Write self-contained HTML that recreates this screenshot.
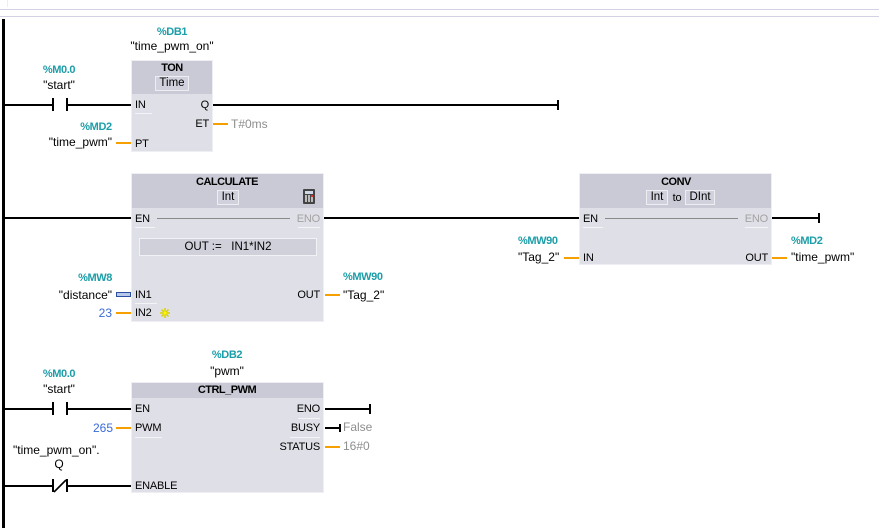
<!DOCTYPE html>
<html><head><meta charset="utf-8">
<style>
html,body{margin:0;padding:0;}
body{width:879px;height:528px;background:#fff;position:relative;overflow:hidden;font-family:"Liberation Sans",sans-serif;color:#000;}
div{position:absolute;box-sizing:border-box;}
.t{line-height:14px;white-space:nowrap;font-size:12px;}
.c{width:120px;text-align:center;}
.a{font-size:11px;font-weight:bold;color:#1c9ea8;letter-spacing:-0.4px;}
.p{font-size:11px;letter-spacing:-0.2px;}
.h{font-size:11px;font-weight:bold;letter-spacing:-0.5px;}
.g{color:#8e8e8e;}
.b{color:#3a6bd6;}
.w{background:#000;height:2px;}
.o{background:#f5a000;height:2px;}
.pl{background:#000;width:2px;height:13px;}
.box{background:#dfdfe7;border:1px solid #eeeef3;}
.hd{background:#c9cad5;left:0;top:0;right:0;}
.ib{background:#d0d1dc;border:1px solid #eeeef2;height:15px;line-height:13px;font-size:11.5px;text-align:center;}
.ul{background:#f4f4f8;height:1px;}
</style></head><body>

<!-- top lines -->
<div style="left:0;top:9px;width:879px;height:1px;background:#d3d1e3"></div>
<div style="left:0;top:16px;width:879px;height:1px;background:#d3d1e3"></div>
<div style="left:7px;top:0;width:1px;height:7px;background:#eeeeee"></div>
<!-- rail -->
<div style="left:2px;top:19px;width:3px;height:509px;background:#000"></div>

<!-- ===== Rung 1 ===== -->
<div class="t a c" style="left:112px;top:25px">%DB1</div>
<div class="t c" style="left:112px;top:39px">"time_pwm_on"</div>
<div class="t a c" style="left:-1px;top:63px">%M0.0</div>
<div class="t c" style="left:-1px;top:78px">"start"</div>

<div class="w" style="left:4px;top:104px;width:48px"></div>
<div class="pl" style="left:52px;top:98px"></div>
<div class="pl" style="left:66px;top:98px"></div>
<div class="w" style="left:68px;top:104px;width:63px"></div>

<div class="box" style="left:131px;top:60px;width:82px;height:92px">
  <div class="hd" style="height:33px"></div>
</div>
<div class="t h c" style="left:112px;top:61px">TON</div>
<div class="ib" style="left:155px;top:76px;width:34px">Time</div>
<div class="t p" style="left:135px;top:98px">IN</div>
<div class="ul" style="left:135px;top:113px;width:17px"></div>
<div class="t p" style="right:670px;top:98px">Q</div>
<div class="t p" style="right:670px;top:117px">ET</div>
<div class="t p" style="left:135px;top:137px">PT</div>

<div class="w" style="left:213px;top:104px;width:345px"></div>
<div style="left:557px;top:100px;width:2px;height:10px;background:#000"></div>
<div class="o" style="left:213px;top:123px;width:15px"></div>
<div class="t g" style="left:231px;top:117px">T#0ms</div>
<div class="t a c" style="left:36px;top:120px">%MD2</div>
<div class="t" style="right:767px;top:135px">"time_pwm"</div>
<div class="o" style="left:116px;top:142px;width:15px"></div>

<!-- ===== Rung 2 ===== -->
<div class="w" style="left:4px;top:217px;width:127px"></div>
<div class="box" style="left:131px;top:173px;width:193px;height:149px">
  <div class="hd" style="height:34px"></div>
</div>
<div class="t h c" style="left:167px;top:175px">CALCULATE</div>
<div class="ib" style="left:217px;top:190px;width:22px">Int</div>
<!-- calculator icon -->
<div style="left:303px;top:189px;width:12px;height:15px;background:#444;border-radius:1px"></div>
<div style="left:305px;top:191px;width:8px;height:3px;background:#cfd8e6"></div>
<div style="left:305px;top:195px;width:8px;height:7px;background:repeating-linear-gradient(90deg,#bbb 0 2px,#444 2px 3px)"></div>
<div style="left:311px;top:195px;width:2px;height:2px;background:#e03030"></div>

<div class="t p" style="left:135px;top:212px">EN</div>
<div class="ul" style="left:135px;top:227px;width:20px"></div>
<div style="left:157px;top:218px;width:133px;height:1px;background:#8a8a8a"></div>
<div class="t p" style="right:559px;top:212px;color:#a3a3a3">ENO</div>
<div class="ul" style="left:298px;top:227px;width:22px"></div>
<div class="w" style="left:324px;top:217px;width:255px"></div>

<div style="left:139px;top:238px;width:178px;height:18px;background:#cfd0da;border:1px solid #f2f2f6"></div>
<div class="t" style="left:139px;top:240px;width:178px;text-align:center;font-size:11.5px">OUT :=&nbsp;&nbsp; IN1*IN2</div>

<div class="t a c" style="left:35px;top:271px">%MW8</div>
<div class="t" style="right:767px;top:288px">"distance"</div>
<div style="left:116px;top:292px;width:15px;height:5px;border:1px solid #2a4f9e;background:#b8c8ea"></div>
<div class="t p" style="left:135px;top:288px">IN1</div>
<div class="ul" style="left:135px;top:303px;width:22px"></div>
<div class="t b" style="right:767px;top:306px">23</div>
<div class="o" style="left:116px;top:312px;width:15px"></div>
<div class="t p" style="left:135px;top:306px">IN2</div>
<svg style="position:absolute;left:159px;top:307px" width="12" height="12" viewBox="0 0 12 12">
<g stroke="#d8d000" stroke-width="1.5"><line x1="6" y1="1" x2="6" y2="11"/><line x1="1" y1="6" x2="11" y2="6"/><line x1="2.5" y1="2.5" x2="9.5" y2="9.5"/><line x1="9.5" y1="2.5" x2="2.5" y2="9.5"/></g>
<circle cx="6" cy="6" r="1.6" fill="#fff700"/></svg>

<div class="t p" style="right:559px;top:288px">OUT</div>
<div class="o" style="left:325px;top:294px;width:15px"></div>
<div class="t a" style="left:343px;top:270px">%MW90</div>
<div class="t" style="left:343px;top:288px">"Tag_2"</div>

<!-- CONV -->
<div class="box" style="left:579px;top:173px;width:193px;height:92px">
  <div class="hd" style="height:34px"></div>
</div>
<div class="t h c" style="left:616px;top:175px">CONV</div>
<div class="ib" style="left:646px;top:190px;width:22px">Int</div>
<div class="t p" style="left:669px;top:191px;width:16px;text-align:center">to</div>
<div class="ib" style="left:685px;top:190px;width:30px">DInt</div>
<div class="t p" style="left:583px;top:212px">EN</div>
<div class="ul" style="left:583px;top:227px;width:20px"></div>
<div style="left:605px;top:218px;width:133px;height:1px;background:#8a8a8a"></div>
<div class="t p" style="right:111px;top:212px;color:#a3a3a3">ENO</div>
<div class="ul" style="left:745px;top:227px;width:23px"></div>
<div class="w" style="left:772px;top:217px;width:47px"></div>
<div style="left:818px;top:213px;width:2px;height:10px;background:#000"></div>
<div class="t p" style="left:583px;top:251px">IN</div>
<div class="t p" style="right:111px;top:251px">OUT</div>
<div class="t a" style="left:518px;top:234px">%MW90</div>
<div class="t" style="left:518px;top:250px">"Tag_2"</div>
<div class="o" style="left:564px;top:257px;width:15px"></div>
<div class="o" style="left:772px;top:257px;width:15px"></div>
<div class="t a" style="left:791px;top:234px">%MD2</div>
<div class="t" style="left:791px;top:250px">"time_pwm"</div>

<!-- ===== Rung 3 ===== -->
<div class="t a c" style="left:167px;top:348px">%DB2</div>
<div class="t c" style="left:167px;top:364px">"pwm"</div>
<div class="t a c" style="left:-1px;top:367px">%M0.0</div>
<div class="t c" style="left:-1px;top:382px">"start"</div>

<div class="w" style="left:4px;top:408px;width:48px"></div>
<div class="pl" style="left:52px;top:402px"></div>
<div class="pl" style="left:66px;top:402px"></div>
<div class="w" style="left:68px;top:408px;width:63px"></div>

<div class="box" style="left:131px;top:382px;width:193px;height:111px">
  <div class="hd" style="height:15px"></div>
</div>
<div class="t h c" style="left:167px;top:383px">CTRL_PWM</div>
<div class="t p" style="left:135px;top:402px">EN</div>
<div class="t p" style="left:135px;top:421px">PWM</div>
<div class="ul" style="left:135px;top:437px;width:27px"></div>
<div class="t p" style="left:135px;top:479px">ENABLE</div>
<div class="t b" style="right:766px;top:421px">265</div>
<div class="o" style="left:116px;top:427px;width:15px"></div>

<div class="t" style="left:13px;top:443px">"time_pwm_on".</div>
<div class="t c" style="left:-1px;top:457px">Q</div>
<div class="w" style="left:4px;top:485px;width:48px"></div>
<div class="pl" style="left:52px;top:479px"></div>
<div class="pl" style="left:66px;top:479px"></div>
<svg style="position:absolute;left:52px;top:478px" width="16" height="16"><line x1="2" y1="14" x2="14" y2="2" stroke="#000" stroke-width="1.6"/></svg>
<div class="w" style="left:68px;top:485px;width:63px"></div>

<div class="t p" style="right:559px;top:402px">ENO</div>
<div class="ul" style="left:298px;top:418px;width:22px"></div>
<div class="w" style="left:325px;top:408px;width:45px"></div>
<div style="left:369px;top:404px;width:2px;height:10px;background:#000"></div>
<div class="t p" style="right:559px;top:421px">BUSY</div>
<div class="ul" style="left:290px;top:437px;width:30px"></div>
<div class="w" style="left:325px;top:427px;width:15px"></div>
<div style="left:339px;top:424px;width:2px;height:8px;background:#000"></div>
<div class="t g" style="left:343px;top:420px">False</div>
<div class="t p" style="right:559px;top:440px">STATUS</div>
<div class="o" style="left:325px;top:446px;width:15px"></div>
<div class="t g" style="left:343px;top:439px">16#0</div>

</body></html>
